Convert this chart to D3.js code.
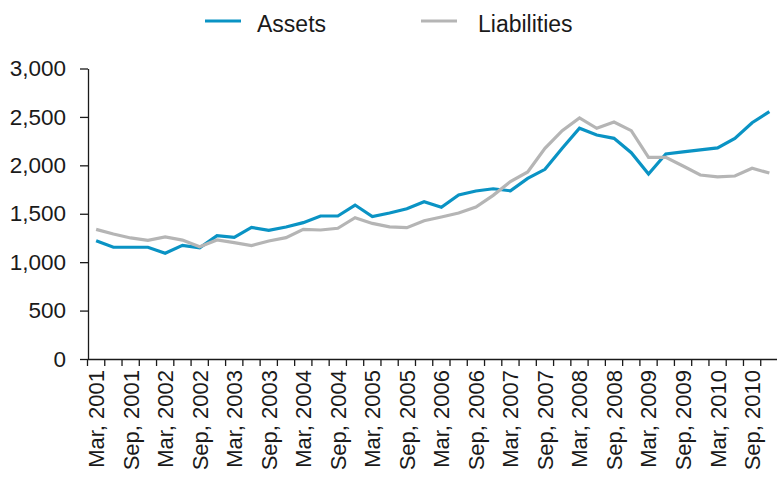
<!DOCTYPE html>
<html>
<head>
<meta charset="utf-8">
<script src="https://cdn.jsdelivr.net/npm/d3@7"></script>
<style>
  body { margin: 0; background: #fff; }
  text { font-family: "Liberation Sans", Arial, sans-serif; }
</style>
</head>
<body>
<div id="chart"></div>
<script>
const quarters = [
  "Mar, 2001", "Jun, 2001", "Sep, 2001", "Dec, 2001",
  "Mar, 2002", "Jun, 2002", "Sep, 2002", "Dec, 2002",
  "Mar, 2003", "Jun, 2003", "Sep, 2003", "Dec, 2003",
  "Mar, 2004", "Jun, 2004", "Sep, 2004", "Dec, 2004",
  "Mar, 2005", "Jun, 2005", "Sep, 2005", "Dec, 2005",
  "Mar, 2006", "Jun, 2006", "Sep, 2006", "Dec, 2006",
  "Mar, 2007", "Jun, 2007", "Sep, 2007", "Dec, 2007",
  "Mar, 2008", "Jun, 2008", "Sep, 2008", "Dec, 2008",
  "Mar, 2009", "Jun, 2009", "Sep, 2009", "Dec, 2009",
  "Mar, 2010", "Jun, 2010", "Sep, 2010", "Dec, 2010"
];

const assets = [
  1222, 1154, 1154, 1154, 1092, 1174, 1149, 1273, 1257, 1360,
  1328, 1363, 1408, 1477, 1477, 1590, 1472, 1508, 1552, 1625,
  1567, 1694, 1735, 1758, 1737, 1865, 1959, 2176, 2383, 2313,
  2279, 2131, 1911, 2117, 2139, 2160, 2180, 2279, 2440, 2554
];

const liabilities = [
  1339, 1291, 1250, 1225, 1260, 1228, 1160, 1229, 1201, 1172,
  1219, 1253, 1339, 1332, 1350, 1459, 1400, 1365, 1356, 1428,
  1466, 1508, 1570, 1690, 1832, 1931, 2176, 2358, 2489, 2382,
  2448, 2358, 2083, 2083, 1993, 1900, 1880, 1890, 1970, 1920
];

const yTicks = [0, 500, 1000, 1500, 2000, 2500, 3000];

const seriesNames = ["Assets", "Liabilities"];
const seriesColors = ["#0a93c4", "#b5b5b5"];

const svg = d3
  .select("#chart")
  .append("svg")
  .attr("width", 777)
  .attr("height", 477);

// Scales
const x = d3.scaleBand().domain(quarters).range([87.5, 778]).padding(0);
const y = d3.scaleLinear().domain([0, 3000]).range([359, 68.5]);

// Y axis
svg
  .append("g")
  .attr("transform", "translate(88,0)")
  .call(
    d3.axisLeft(y)
      .tickValues(yTicks)
      .tickSize(8)
      .tickSizeOuter(0)
      .tickPadding(14)
      .tickFormat(d3.format(","))
  )
  .call((g) => g.selectAll("line, path").attr("stroke", "#1a1a1a").attr("stroke-width", 1.3))
  .selectAll("text")
  .attr("fill", "#1a1a1a")
  .style("font-size", "22.5px");

// X axis, ticks on the quarter boundaries, labels every half year
const xAxis = svg
  .append("g")
  .attr("transform", "translate(0,359)")
  .call(d3.axisBottom(x).tickSize(7).tickSizeOuter(0));

xAxis.selectAll("line, path").attr("stroke", "#1a1a1a").attr("stroke-width", 1.3);
xAxis
  .selectAll(".tick line")
  .attr("x1", -x.step() / 2)
  .attr("x2", -x.step() / 2);
xAxis
  .selectAll(".tick text")
  .filter((d, i) => i % 2 === 1)
  .remove();
xAxis
  .selectAll(".tick text")
  .attr("fill", "#1a1a1a")
  .attr("transform", "rotate(-90)")
  .attr("text-anchor", "end")
  .attr("x", -11)
  .attr("y", 0)
  .attr("dy", "0.36em")
  .style("font-size", "22px");

// Lines
const line = d3
  .line()
  .x((d, i) => x(quarters[i]) + x.bandwidth() / 2)
  .y((d) => y(d));

[assets, liabilities].forEach((values, k) => {
  svg
    .append("path")
    .datum(values)
    .attr("fill", "none")
    .attr("stroke", seriesColors[k])
    .attr("stroke-width", 3.2)
    .attr("d", line);
});

// Legend
const legendX = [205, 421];
const legend = svg
  .selectAll(".legend")
  .data(seriesNames)
  .enter()
  .append("g")
  .attr("class", "legend")
  .attr("transform", (d, i) => `translate(${legendX[i]},21)`);

legend
  .append("line")
  .attr("x1", 0)
  .attr("x2", 36)
  .attr("stroke", (d, i) => seriesColors[i])
  .attr("stroke-width", 3);

legend
  .append("text")
  .attr("x", (d, i) => (i === 0 ? 52 : 57))
  .attr("y", 4)
  .attr("dy", "0.32em")
  .attr("fill", "#1a1a1a")
  .style("font-size", "23px")
  .text((d) => d);
</script>
</body>
</html>
